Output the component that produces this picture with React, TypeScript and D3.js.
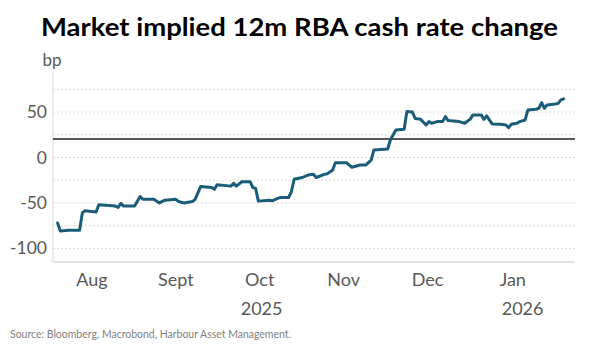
import React, { useEffect } from "react";
import * as d3 from "d3";

// chart data
const dates = [
  "2025-08-04", "2025-08-05", "2025-08-08", "2025-08-12", "2025-08-13", "2025-08-14",
  "2025-08-18", "2025-08-19", "2025-08-25", "2025-08-26", "2025-08-27", "2025-08-28",
  "2025-09-01", "2025-09-03", "2025-09-04", "2025-09-08", "2025-09-10", "2025-09-12",
  "2025-09-16", "2025-09-17", "2025-09-19", "2025-09-22", "2025-09-23", "2025-09-25",
  "2025-09-29", "2025-09-30", "2025-10-01", "2025-10-06", "2025-10-07", "2025-10-08",
  "2025-10-10", "2025-10-13", "2025-10-14", "2025-10-15", "2025-10-16", "2025-10-20",
  "2025-10-21", "2025-10-23", "2025-10-24", "2025-10-27", "2025-10-28", "2025-10-29",
  "2025-11-01", "2025-11-03", "2025-11-05", "2025-11-06", "2025-11-09", "2025-11-10",
  "2025-11-12", "2025-11-13", "2025-11-17", "2025-11-19", "2025-11-22", "2025-11-24",
  "2025-11-26", "2025-11-27", "2025-12-02", "2025-12-03", "2025-12-05", "2025-12-08",
  "2025-12-09", "2025-12-11", "2025-12-12", "2025-12-14", "2025-12-16", "2025-12-17",
  "2025-12-18", "2025-12-20", "2025-12-22", "2025-12-23", "2025-12-24", "2025-12-28",
  "2025-12-30", "2026-01-01", "2026-01-02", "2026-01-05", "2026-01-06", "2026-01-07",
  "2026-01-09", "2026-01-12", "2026-01-14", "2026-01-15", "2026-01-16", "2026-01-18",
  "2026-01-19", "2026-01-21", "2026-01-22", "2026-01-25", "2026-01-26", "2026-01-27",
  "2026-01-28", "2026-01-29", "2026-02-01", "2026-02-02", "2026-02-03", "2026-02-04",
];
const rateChange = [
  -72, -81, -80, -80, -61, -58.5,
  -60, -52, -53.5, -55, -50.5, -53.5,
  -53.5, -43, -46, -46, -50, -47,
  -46, -48.5, -50, -48.5, -46, -32,
  -33, -35, -30, -31.5, -28.5, -31.5,
  -26.7, -26.7, -33, -34, -48, -47,
  -47.6, -45, -44, -44, -37.7, -24,
  -22, -19.3, -18.5, -22, -18.5, -18,
  -13.8, -5.7, -5.7, -10.8, -8.3, -8.3,
  -2.8, 8.3, 9.4, 19.3, 30.3, 31,
  50.5, 50, 43, 42, 35.8, 39.5,
  37.7, 39.5, 39.5, 45, 40.6, 39.5,
  37.7, 42, 46.9, 46.9, 42, 45.8,
  37, 36.6, 35.8, 32.9, 36.6, 37.7,
  39.5, 41.3, 52.4, 53.1, 54.2, 60.4,
  54.2, 57.9, 59, 59.5, 63.4, 64.5,
];
const refLevel = 20.5;
const yGrid = [-100, -75, -50, -25, 0, 25, 50, 75];
const yTickLabels = [-100, -50, 0, 50];
const monthLabels = ["Aug", "Sept", "Oct", "Nov", "Dec", "Jan"];
const yearLabels = ["2025", "2026"];

const title = "Market implied 12m RBA cash rate change";
const source = "Source: Bloomberg, Macrobond, Harbour Asset Management.";

const W = 600;
const H = 353;
const font = "Lato, 'Open Sans', sans-serif";

export default function App() {
  useEffect(() => {
    document.body.style.margin = "0";
  }, []);

  const parse = d3.timeParse("%Y-%m-%d");
  const data = dates.map((d, i) => ({ date: parse(d) as Date, value: rateChange[i] }));

  const x = d3
    .scaleTime()
    .domain([new Date(2025, 7, 2, 8), new Date(2026, 1, 8, 3)])
    .range([53, 575]);
  const y = d3.scaleLinear().domain([-115, 93]).range([262, 73]);

  const line = d3
    .line<{ date: Date; value: number }>()
    .x((d) => x(d.date))
    .y((d) => y(d.value));

  const months = d3.timeMonth.range(new Date(2025, 7, 1), new Date(2026, 1, 1));
  const [x0, x1] = x.range();
  const yearStart = x(new Date(2026, 0, 1));
  const yearCenters = [(x0 + yearStart) / 2, (yearStart + x1) / 2];

  return (
    <svg width={W} height={H} style={{ display: "block", background: "#fff" }} fontFamily={font}>
      <text
        x={299.5}
        y={35.7}
        textAnchor="middle"
        fontSize={25}
        fontWeight="bold"
        fill="#000"
        textLength={517}
        lengthAdjust="spacingAndGlyphs"
      >
        {title}
      </text>
      <text x={42.5} y={66} fontSize={17} fill="#595959">
        bp
      </text>

      {yGrid.map((v) => (
        <line
          key={v}
          x1={x0}
          x2={x1}
          y1={y(v)}
          y2={y(v)}
          stroke="#d9d9d9"
          strokeWidth={1}
          strokeDasharray="2,2"
        />
      ))}
      <line x1={x0} x2={x0} y1={y.range()[1]} y2={y.range()[0]} stroke="#d9d9d9" strokeWidth={1} />
      <line x1={x0} x2={x1} y1={y.range()[0]} y2={y.range()[0]} stroke="#d9d9d9" strokeWidth={1.5} />

      {yTickLabels.map((v) => (
        <text key={v} x={47} y={y(v) + 6} textAnchor="end" fontSize={17.5} fill="#595959">
          {v}
        </text>
      ))}

      <line x1={x0} x2={x1} y1={y(refLevel)} y2={y(refLevel)} stroke="#595959" strokeWidth={2} />

      <path
        d={line(data) || ""}
        fill="none"
        stroke="#1b5d79"
        strokeWidth={3}
        strokeLinejoin="round"
        strokeLinecap="round"
      />

      {months.map((m, i) => {
        const next = d3.timeMonth.offset(m, 1);
        const cx = (x(m) + x(next)) / 2;
        return (
          <text key={i} x={cx} y={286} textAnchor="middle" fontSize={18} fill="#595959">
            {monthLabels[i]}
          </text>
        );
      })}
      {yearLabels.map((t, i) => (
        <text key={t} x={yearCenters[i]} y={315} textAnchor="middle" fontSize={18} fill="#595959">
          {t}
        </text>
      ))}

      <text x={10} y={338} fontSize={10.5} fill="#7f7f7f" textLength={281} lengthAdjust="spacingAndGlyphs">
        {source}
      </text>
    </svg>
  );
}
